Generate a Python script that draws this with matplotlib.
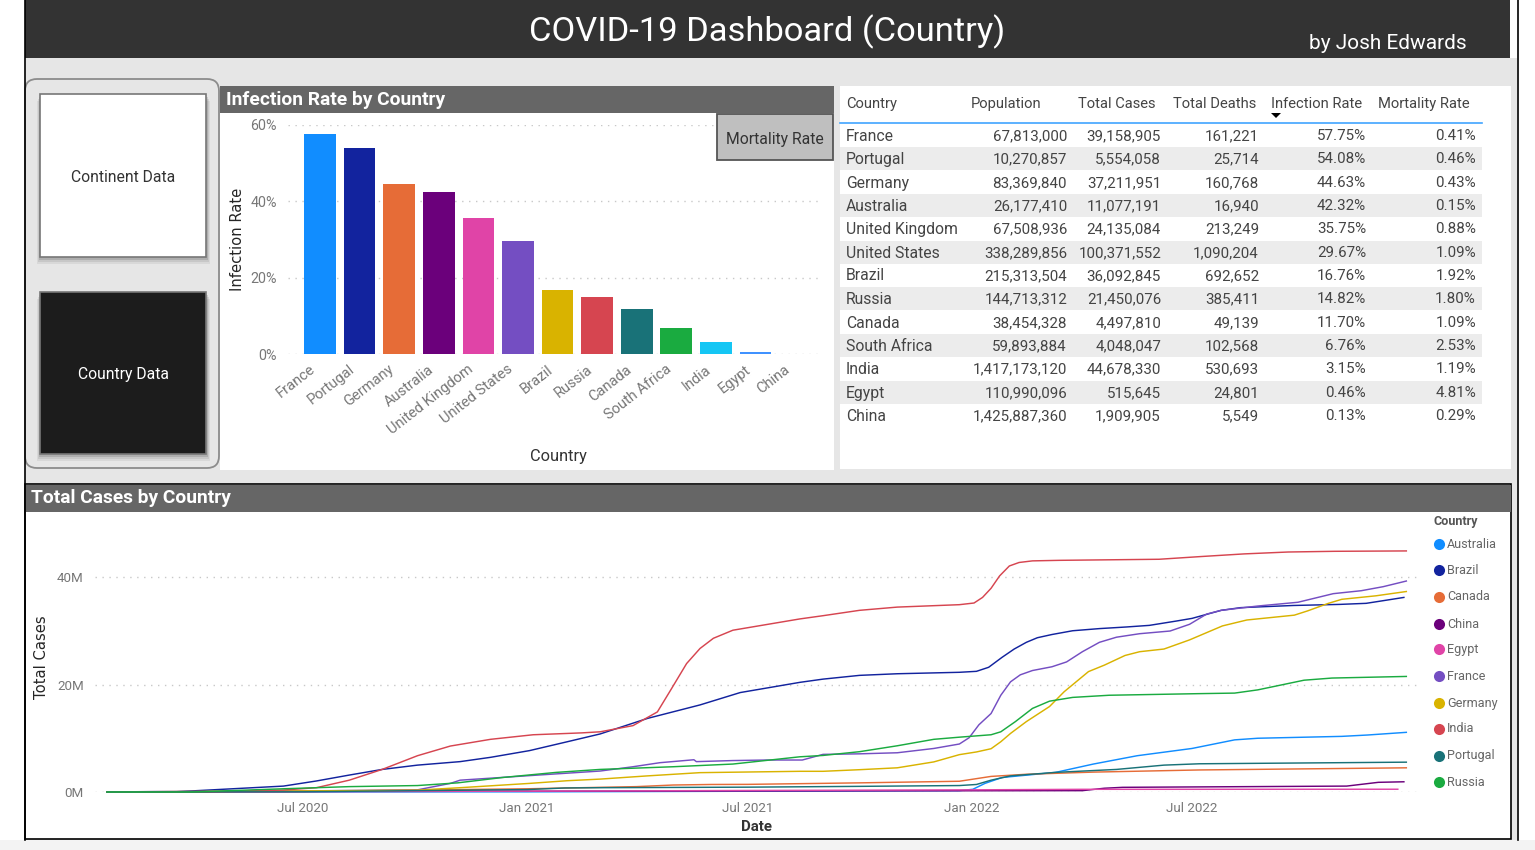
import matplotlib
matplotlib.use("Agg")
import matplotlib.pyplot as plt
import matplotlib.dates as mdates
from matplotlib.patches import Rectangle, FancyBboxPatch, Polygon
from matplotlib.ticker import FuncFormatter
from matplotlib.transforms import ScaledTranslation
import pandas as pd

W, H = 1535, 850

# ---------- data ----------
countries = ["France", "Portugal", "Germany", "Australia", "United Kingdom", "United States", "Brazil",
             "Russia", "Canada", "South Africa", "India", "Egypt", "China"]
population = ["67,813,000", "10,270,857", "83,369,840", "26,177,410", "67,508,936", "338,289,856", "215,313,504",
              "144,713,312", "38,454,328", "59,893,884", "1,417,173,120", "110,990,096", "1,425,887,360"]
total_cases = ["39,158,905", "5,554,058", "37,211,951", "11,077,191", "24,135,084", "100,371,552", "36,092,845",
               "21,450,076", "4,497,810", "4,048,047", "44,678,330", "515,645", "1,909,905"]
total_deaths = ["161,221", "25,714", "160,768", "16,940", "213,249", "1,090,204", "692,652",
                "385,411", "49,139", "102,568", "530,693", "24,801", "5,549"]
infection_rate = [57.75, 54.08, 44.63, 42.32, 35.75, 29.67, 16.76, 14.82, 11.70, 6.76, 3.15, 0.46, 0.13]
mortality_rate = [0.41, 0.46, 0.43, 0.15, 0.88, 1.09, 1.92, 1.80, 1.09, 2.53, 1.19, 4.81, 0.29]
bar_colors = ["#118DFF", "#12239E", "#E66C37", "#6B007B", "#E044A7", "#744EC2", "#D9B300",
              "#D64550", "#197278", "#1AAB40", "#15C6F4", "#4092FF", "#FFE3CF"]
table_headers = ["Country", "Population", "Total Cases", "Total Deaths", "Infection Rate", "Mortality Rate"]

australia_dates = ["2020-01-22", "2021-01-01", "2021-12-22", "2022-01-02", "2022-01-12", "2022-01-26", "2022-03-11", "2022-04-11",
                   "2022-05-17", "2022-07-01", "2022-08-05", "2022-08-24", "2022-11-01", "2022-11-22", "2022-12-24"]
australia_cases = [0, 0.03, 0.25, 0.5, 1.6, 2.7, 3.65, 5.2, 6.75, 8.1, 9.7, 10.0, 10.35, 10.6, 11.1]

brazil_dates = ["2020-01-22", "2020-03-15", "2020-06-15", "2020-07-12", "2020-08-08", "2020-09-04", "2020-10-03", "2020-11-07",
                "2020-12-02", "2021-01-03", "2021-02-03", "2021-03-02", "2021-04-10", "2021-05-23", "2021-06-25", "2021-08-13",
                "2021-09-01", "2021-10-01", "2021-11-01", "2021-12-22", "2022-01-05", "2022-01-15", "2022-01-26", "2022-02-05",
                "2022-02-15", "2022-02-24", "2022-03-08", "2022-03-25", "2022-04-16", "2022-05-08", "2022-05-27", "2022-06-18",
                "2022-07-01", "2022-07-25", "2022-08-10", "2022-09-22", "2022-10-30", "2022-11-21", "2022-12-08", "2022-12-22"]
brazil_cases = [0, 0, 1.1, 2.05, 3.15, 4.2, 5.0, 5.65, 6.45, 7.7, 9.35, 10.8, 13.7, 16.2, 18.5, 20.4,
                21.0, 21.7, 22.0, 22.27, 22.45, 23.2, 25.05, 26.6, 27.85, 28.7, 29.3, 30.0, 30.4, 30.7, 31.0, 31.8,
                32.3, 33.8, 34.3, 34.7, 34.9, 35.1, 35.7, 36.2]

canada_dates = ["2020-01-22", "2020-07-01", "2021-01-01", "2021-04-01", "2021-05-01", "2021-06-01", "2021-07-01", "2021-10-01",
                "2021-12-22", "2022-01-17", "2022-02-15", "2022-04-11", "2022-07-07", "2022-12-24"]
canada_cases = [0, 0.1, 0.6, 1.0, 1.3, 1.4, 1.42, 1.7, 2.0, 2.9, 3.3, 3.7, 4.1, 4.5]

china_dates = ["2020-01-22", "2020-03-01", "2022-04-02", "2022-04-20", "2022-05-05", "2022-11-05", "2022-12-01",
               "2022-12-22"]
china_cases = [0, 0.08, 0.25, 0.7, 0.87, 1.1, 1.8, 1.9]

egypt_dates = ["2020-01-22", "2020-05-01", "2020-07-01", "2021-01-01", "2021-07-01", "2022-01-01", "2022-04-01", "2022-12-17"]
egypt_cases = [0, 0.01, 0.07, 0.15, 0.28, 0.4, 0.5, 0.515]

france_dates = ["2020-01-22", "2020-07-01", "2020-10-03", "2020-10-30", "2020-11-07", "2021-01-10", "2021-03-02", "2021-03-29",
                "2021-04-20", "2021-05-18", "2021-05-20", "2021-06-19", "2021-07-17", "2021-08-15", "2021-09-01", "2021-10-01",
                "2021-11-01", "2021-12-01", "2021-12-22", "2021-12-30", "2022-01-07", "2022-01-17", "2022-01-25", "2022-02-02",
                "2022-02-10", "2022-02-20", "2022-03-08", "2022-03-20", "2022-04-02", "2022-04-16", "2022-04-30", "2022-05-19",
                "2022-06-13", "2022-06-29", "2022-07-13", "2022-07-25", "2022-08-24", "2022-09-26", "2022-10-25", "2022-11-17",
                "2022-12-05", "2022-12-24"]
france_cases = [0, 0.2, 0.4, 1.6, 2.2, 3.15, 3.9, 4.7, 5.45, 6.0, 5.65, 5.85, 5.95, 5.95, 7.0, 7.1,
                7.3, 8.1, 8.93, 10.1, 12.5, 14.6, 18.0, 20.5, 21.8, 22.6, 23.3, 24.2, 26.1, 27.85, 28.8, 29.45,
                29.95, 31.2, 33.1, 33.8, 34.6, 35.3, 36.9, 37.45, 38.2, 39.25]

germany_dates = ["2020-01-22", "2020-07-01", "2020-10-03", "2020-11-07", "2021-01-03", "2021-02-03", "2021-03-02", "2021-04-10",
                 "2021-05-23", "2021-08-13", "2021-09-01", "2021-10-01", "2021-11-01", "2021-12-01", "2021-12-22", "2022-01-05",
                 "2022-01-17", "2022-01-25", "2022-02-02", "2022-02-15", "2022-03-06", "2022-03-18", "2022-04-07", "2022-04-20",
                 "2022-05-07", "2022-05-19", "2022-06-08", "2022-06-21", "2022-06-29", "2022-07-26", "2022-08-15", "2022-09-23",
                 "2022-10-04", "2022-10-21", "2022-11-01", "2022-11-29", "2022-12-24"]
germany_cases = [0, 0.2, 0.35, 0.8, 1.6, 2.1, 2.4, 3.0, 3.6, 3.85, 3.85, 4.15, 4.5, 5.6, 6.95, 7.45,
                 8.05, 9.35, 10.9, 13.1, 15.9, 18.65, 22.4, 23.6, 25.4, 26.1, 26.6, 27.65, 28.3, 30.9, 32.0, 32.9,
                 33.7, 35.1, 35.85, 36.5, 37.3]

india_dates = ["2020-01-22", "2020-04-15", "2020-06-15", "2020-07-12", "2020-08-08", "2020-09-04", "2020-10-03", "2020-10-30",
               "2020-12-02", "2021-01-06", "2021-02-15", "2021-03-02", "2021-03-29", "2021-04-18", "2021-04-29", "2021-05-12",
               "2021-05-23", "2021-06-03", "2021-06-19", "2021-08-13", "2021-09-01", "2021-10-01", "2021-11-01", "2021-12-22",
               "2022-01-03", "2022-01-10", "2022-01-17", "2022-01-24", "2022-02-01", "2022-02-09", "2022-02-20", "2022-03-14",
               "2022-06-04", "2022-07-08", "2022-08-13", "2022-09-18", "2022-10-26", "2022-12-24"]
india_cases = [0, 0, 0.37, 0.8, 2.2, 4.2, 6.75, 8.55, 9.8, 10.65, 11.0, 11.2, 12.35, 14.9, 19.0, 23.9,
               26.7, 28.6, 30.1, 32.2, 32.8, 33.8, 34.4, 34.85, 35.16, 36.2, 37.9, 40.2, 42.05, 42.7, 43.0, 43.1,
               43.3, 43.8, 44.3, 44.65, 44.78, 44.85]

portugal_dates = ["2020-01-22", "2020-07-01", "2021-01-01", "2021-02-01", "2021-03-01", "2021-07-01", "2021-10-01", "2021-12-22",
                  "2022-01-05", "2022-01-17", "2022-02-02", "2022-03-11", "2022-04-30", "2022-06-08", "2022-07-07", "2022-12-24"]
portugal_cases = [0, 0.04, 0.45, 0.75, 0.8, 0.9, 1.05, 1.2, 1.4, 2.2, 3.0, 3.65, 4.2, 5.0, 5.25, 5.55]

russia_dates = ["2020-01-22", "2020-04-01", "2020-06-15", "2020-08-08", "2020-10-03", "2020-11-05", "2020-12-12", "2021-01-25",
                "2021-03-02", "2021-05-01", "2021-06-19", "2021-08-13", "2021-09-01", "2021-10-01", "2021-11-01", "2021-12-01",
                "2021-12-22", "2022-01-17", "2022-01-25", "2022-02-06", "2022-02-20", "2022-03-06", "2022-03-25", "2022-04-24",
                "2022-07-07", "2022-08-05", "2022-08-24", "2022-09-12", "2022-10-01", "2022-10-24", "2022-12-24"]
russia_cases = [0, 0, 0.6, 1.0, 1.2, 1.7, 2.7, 3.65, 4.2, 4.7, 5.2, 6.55, 6.8, 7.5, 8.6, 9.8,
                10.2, 10.65, 11.2, 13.1, 15.55, 16.9, 17.6, 18.0, 18.3, 18.4, 19.0, 19.9, 20.8, 21.2, 21.5]

legend_names = ["Australia", "Brazil", "Canada", "China", "Egypt", "France", "Germany", "India", "Portugal", "Russia"]
legend_colors = ["#118DFF", "#12239E", "#E66C37", "#6B007B", "#E044A7", "#744EC2", "#D9B300", "#D64550", "#197278", "#1AAB40"]
series_dates = [australia_dates, brazil_dates, canada_dates, china_dates, egypt_dates, france_dates, germany_dates,
                india_dates, portugal_dates, russia_dates]
series_cases = [australia_cases, brazil_cases, canada_cases, china_cases, egypt_cases, france_cases, germany_cases,
                india_cases, portugal_cases, russia_cases]
x_ticks = ["2020-07-01", "2021-01-01", "2021-07-01", "2022-01-01", "2022-07-01"]

# ---------- fonts ----------
UI = ["Roboto", "Open Sans", "DejaVu Sans"]
NARROW = ["Liberation Sans Narrow", "Roboto", "DejaVu Sans"]
WIDE = ["DejaVu Sans"]

fig = plt.figure(figsize=(W / 100, H / 100), dpi=100, facecolor="white")


def px_axes(x0, y_top, x1, y_bot, z):
    return fig.add_axes([x0 / W, 1 - y_bot / H, (x1 - x0) / W, (y_bot - y_top) / H], zorder=z)


def overlay(z):
    a = fig.add_axes([0, 0, 1, 1], zorder=z)
    a.set_xlim(0, W)
    a.set_ylim(H, 0)
    a.axis("off")
    a.patch.set_alpha(0)
    return a


def rect(a, x0, y0, x1, y1, fc, ec="none", lw=0, z=1):
    a.add_patch(Rectangle((x0, y0), x1 - x0, y1 - y0, facecolor=fc, edgecolor=ec, linewidth=lw, zorder=z))


bg = overlay(0)
# page
rect(bg, 0, 840, W, H, "#F3F3F3")
rect(bg, 25, 58, 1517, 840, "#E6E6E6")
bg.plot([24.5, 24.5], [0, 840], color="black", lw=1.2, zorder=5)
bg.plot([1517.5, 1517.5], [0, 840], color="black", lw=1.2, zorder=5)
# header
rect(bg, 25, 0, 1510, 58, "#333333", z=2)
bg.text(767, 32, "COVID-19 Dashboard (Country)", color="white", ha="center", va="center", fontsize=24.8, family=UI, zorder=6)
bg.text(1467, 43, "by Josh Edwards", color="white", ha="right", va="center", fontsize=15, family=UI, zorder=6)

# nav group
bg.add_patch(FancyBboxPatch((33, 87), 178, 373, boxstyle="round,pad=8,rounding_size=12", facecolor="#E6E6E6",
                            edgecolor="#8C8C8C", linewidth=1.3, zorder=2))
for (y0, y1, fc, tc, label, ty) in [(94, 257, "white", "#333333", "Continent Data", 177),
                                    (292, 454, "#1C1C1C", "white", "Country Data", 374)]:
    for off, alpha in [(7, 0.06), (5, 0.08), (3, 0.12)]:
        bg.add_patch(Rectangle((40 - off / 2, y0 + off), 166 + off, y1 - y0, facecolor="black", alpha=alpha, edgecolor="none", zorder=3))
    rect(bg, 40, y0, 206, y1, fc, "#777777", 1.2, z=4)
    bg.text(123, ty, label, color=tc, ha="center", va="center", fontsize=11.3, family=UI, zorder=6)

# bar panel
rect(bg, 220, 86, 834, 470, "white", z=2)
rect(bg, 220, 86, 834, 113, "#666666", z=3)
bg.text(226, 99.5, "Infection Rate by Country", color="white", ha="left", va="center", fontsize=13.9, family=NARROW,
        fontweight="bold", zorder=6)
bg.text(237, 239, "Infection Rate", color="#252525", rotation=90, ha="center", va="center", fontsize=10.6, family=WIDE, zorder=6)
bg.text(558.5, 456, "Country", color="#333333", ha="center", va="center", fontsize=11.8, family=UI, zorder=6)

# table panel
rect(bg, 840, 86, 1511, 469, "white", z=2)
hdr_x = [846, 971, 1078, 1173, 1271, 1378]
for hx, h in zip(hdr_x, table_headers):
    bg.text(hx, 103.5, h, color="#444444", ha="left", va="center", fontsize=10.6, family=UI, zorder=6)
bg.add_patch(Polygon([[1271, 113], [1281, 113], [1276, 118]], closed=True, facecolor="black", zorder=6))
bg.plot([840, 1482], [122.8, 122.8], color="#41A4FF", lw=1.2, zorder=6)
row_y = [135.5, 158.5, 182.5, 205.5, 228.5, 252.5, 275.5, 298.5, 322.5, 345.5, 368.5, 392.5, 415.5]
col_right = [1067, 1161, 1259, 1366, 1476]
for i, name in enumerate(countries):
    y = row_y[i]
    if i % 2 == 1:
        rect(bg, 840, y - 11.5, 1482, y + 11.5, "#ECECEC", z=3)
    bg.text(846, y + 0.5, name, color="#444444", ha="left", va="center", fontsize=11.3, family=UI, zorder=6)
    cells = [population[i], total_cases[i], total_deaths[i], f"{infection_rate[i]:.2f}%", f"{mortality_rate[i]:.2f}%"]
    for rx, c in zip(col_right, cells):
        bg.text(rx, y + 0.5, c, color="#444444", ha="right", va="center", fontsize=10.9, family=UI, zorder=6)

# line panel
rect(bg, 25, 484, 1511, 839, "white", "black", 1.2, z=2)
rect(bg, 26, 484.5, 1510.5, 512, "#666666", z=3)
bg.text(31, 497.5, "Total Cases by Country", color="white", ha="left", va="center", fontsize=13.8, family=NARROW,
        fontweight="bold", zorder=6)
bg.text(42, 657, "Total Cases", color="#252525", rotation=90, ha="center", va="center", fontsize=10.6, family=WIDE, zorder=6)
bg.text(757, 827, "Date", color="#333333", ha="center", va="center", fontsize=10.8, family=UI, fontweight="bold", zorder=6)
# legend
bg.text(1433, 522, "Country", color="#555555", ha="left", va="center", fontsize=9.1, family=UI, fontweight="bold", zorder=6)
leg_y = [544, 570, 597, 624, 649, 676, 703, 729, 756, 782]
for y, n, c in zip(leg_y, legend_names, legend_colors):
    bg.plot([1439], [y], "o", ms=8, color=c, mec="none", zorder=6)
    bg.text(1447, y, n, color="#666666", ha="left", va="center", fontsize=9.1, family=UI, zorder=6)

# ---------- bar chart ----------
ax = px_axes(288, 125, 822, 354, 2)
ax.patch.set_alpha(0)
idx = list(range(len(countries)))
ax.bar(idx, infection_rate, width=0.8, color=bar_colors, zorder=3)
ax.set_xlim(-0.808, 12.68)
ax.set_ylim(0, 60)
ax.set_yticks([0, 20, 40, 60])
ax.yaxis.set_major_formatter(FuncFormatter(lambda v, _: f"{v:.0f}%"))
ax.grid(axis="y", color="#C8C8C8", linestyle=(0, (1, 4)), linewidth=1, zorder=0)
ax.set_axisbelow(True)
ax.set_xticks(idx)
ax.set_xticklabels(countries, rotation=38, ha="right", va="top", rotation_mode="anchor", family=UI, fontsize=10.5, color="#777777")
ax.tick_params(axis="both", length=0)
ax.tick_params(axis="x", pad=6)
ax.tick_params(axis="y", pad=8, labelcolor="#777777", labelsize=10.3)
shift = ScaledTranslation(-11 / 100, 0, fig.dpi_scale_trans)
for t in ax.get_xticklabels():
    t.set_transform(t.get_transform() + shift)
for t in ax.get_yticklabels():
    t.set_family(UI)
for s in ax.spines.values():
    s.set_visible(False)

# ---------- line chart ----------
PX_PER_DAY = 889 / 730
ref = mdates.date2num(pd.Timestamp("2020-07-01"))
lax = px_axes(95, 515, 1420, 792, 2)
lax.patch.set_alpha(0)
for d, v, c in zip(series_dates, series_cases, legend_colors):
    lax.plot(pd.to_datetime(d, format="ISO8601"), v, color=c, lw=1.05, solid_joinstyle="round", zorder=3, clip_on=False)
lax.set_xlim(ref + (95 - 303) / PX_PER_DAY, ref + (1420 - 303) / PX_PER_DAY)
lax.set_ylim(0, (792 - 515) / 5.375)
lax.set_yticks([0, 20, 40])
lax.yaxis.set_major_formatter(FuncFormatter(lambda v, _: f"{v:.0f}M"))
lax.set_xticks(pd.to_datetime(x_ticks))
lax.xaxis.set_major_formatter(mdates.DateFormatter("%b %Y"))
lax.grid(axis="y", color="#C8C8C8", linestyle=(0, (1, 4)), linewidth=1, zorder=0)
lax.set_axisbelow(True)
lax.tick_params(axis="both", length=0, labelcolor="#777777", labelsize=9.6)
lax.tick_params(axis="x", pad=7)
lax.tick_params(axis="y", pad=8)
for t in lax.get_xticklabels() + lax.get_yticklabels():
    t.set_family(UI)
for s in lax.spines.values():
    s.set_visible(False)

# ---------- slicer button on top of the bar chart ----------
top = overlay(3)
rect(top, 717, 114, 833, 160, "#BFBFBF", "#555555", 1.3, z=2)
top.text(775, 139, "Mortality Rate", color="#333333", ha="center", va="center", fontsize=11.3, family=UI, zorder=3)

fig.savefig("out.png", dpi=100, facecolor=fig.get_facecolor())
